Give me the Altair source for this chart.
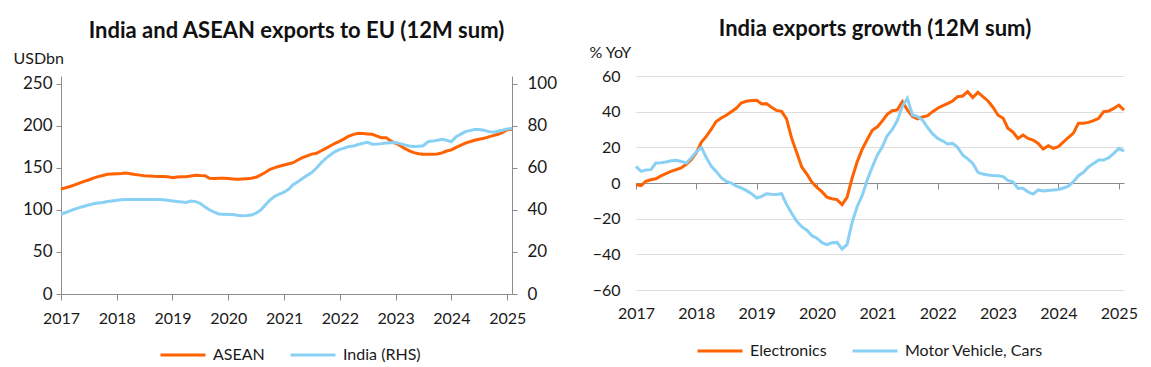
import altair as alt
import pandas as pd

# ---------------- data (monthly, Jan 2017 - Feb 2025) ----------------
months = pd.date_range("2017-01-01", "2025-02-01", freq="MS")

asean = [
    125, 126.5, 128, 130, 132, 134, 135.7, 138, 139.7, 141, 142.5, 142.8,
    143.2, 143.5, 144, 143.2, 142.3, 141.5, 140.9, 140.5, 140.1, 140, 139.8, 139.7,
    138.5, 139.2, 139.5, 139.7, 140.5, 141.3, 141, 140.9, 137.7, 137.6, 137.7, 137.7,
    137.5, 137, 136.5, 137, 137.3, 137.7, 139, 141.7, 145, 148.4, 150.5, 152,
    153.5, 155, 156.3, 159.5, 162.3, 164.5, 166.5, 167.5, 170.5, 173.4, 176.5, 179.4,
    182, 185, 188, 190, 191.3, 191, 190.5, 190.1, 188, 186.1, 186.1, 182,
    179.4, 176.5, 173.4, 170.5, 168.3, 167, 166.3, 166.3, 166.5, 166.7, 168, 170.2,
    171.5, 174.6, 177, 179.5, 181.3, 183, 184.3, 185.3, 187, 188.5, 190.1, 192.5,
    195.6, 196,
]
india = [
    38.1, 38.8, 39.6, 40.4, 41.1, 41.8, 42.4, 43, 43.3, 43.6, 44, 44.3,
    44.6, 44.9, 45, 45, 45, 45, 45, 45, 45, 45, 44.9, 44.6,
    44.3, 44, 43.8, 43.6, 44.3, 44, 43.2, 41.5, 40, 39, 38.1, 38,
    37.9, 37.8, 37.5, 37.3, 37.4, 37.6, 38.5, 40, 42.5, 44.8, 46.5, 47.6,
    48.5, 50, 52, 53.5, 55, 56.5, 57.8, 60, 62.5, 64.6, 66.3, 67.8,
    68.9, 69.5, 70.2, 70.5, 71.2, 71.8, 72.2, 71.3, 71.4, 71.6, 71.9, 72,
    72.1, 71.6, 71, 70.5, 70.2, 70.4, 70.6, 72.5, 72.8, 73.2, 73.7, 73.2,
    72.5, 74.9, 76, 77.3, 77.8, 78.3, 78.3, 78, 77.3, 77, 77.5, 78,
    78.6, 78.8,
]
electronics = [
    -1, -1.5, 0.9, 1.8, 2.4, 4, 5.3, 6.5, 7.5, 8.4, 10.5, 13,
    17, 23, 26, 30, 34.5, 36.5, 38, 40, 42, 45, 45.8, 46.3,
    46.4, 44.3, 44.5, 42.5, 40.7, 40.2, 36, 25, 17, 9, 5, 0.5,
    -2.5, -5, -7.9, -8.8, -9.3, -12.1, -8, 2.8, 12, 19, 24.5, 29.5,
    31.5, 35, 38.5, 40.5, 41, 45.6, 41, 37.2, 35.9, 37, 37.8, 40,
    41.9, 43.4, 44.5, 46, 48.4, 48.8, 51.2, 47.9, 50.8, 48.4, 46, 42.5,
    38, 36.3, 30.7, 28.5, 25, 26.9, 25, 24.1, 22.2, 19, 20.9, 19.4,
    20.4, 23, 25.5, 28, 33.5, 33.5, 34, 35, 36.3, 40, 40.4, 41.8,
    43.7, 40.9,
]
motor = [
    9.3, 6.5, 7.3, 7.5, 11.2, 11.4, 11.8, 12.5, 12.7, 12.1, 11.2, 14,
    17.5, 20, 14.5, 9.5, 6.5, 3, 0.9, 0, -1.8, -2.8, -4.3, -6,
    -8.4, -7.5, -6, -6.3, -6.5, -6, -12, -17, -21.5, -24.5, -26.5, -29.5,
    -31, -33.5, -34.6, -33.5, -33.3, -37, -34.6, -22, -13, -7, 1.9, 9,
    15.7, 20.6, 26.5, 30, 35, 43, 47.5, 38.1, 37.2, 35.3, 31, 27.5,
    25, 23.5, 21.9, 22.2, 20, 15.7, 13.5, 11, 6, 5, 4.5, 4.2,
    4.1, 3.6, 1.5, 0.7, -3, -3, -5, -6.2, -3.9, -4.5, -4.2, -3.9,
    -3.6, -2.8, -1.8, 0.7, 4.1, 6, 9, 11, 12.9, 12.9, 14.2, 16.6,
    19.4, 17.9,
]

left_series = ["ASEAN", "India (RHS)"]
right_series = ["Electronics", "Motor Vehicle, Cars"]
left_ticks = [0, 50, 100, 150, 200, 250]
right_ticks = [0, 20, 40, 60, 80, 100]
growth_ticks = [-60, -40, -20, 0, 20, 40, 60]
years = list(range(2017, 2026))

# ---------------- styling ----------------
ORANGE = "#FF6200"
BLUE = "#89D0F5"
FONT = "Lato"
AXIS_GREY = "#8c8c8c"
TEXT = "#1a1a1a"

asean_df = pd.DataFrame({"date": months, "value": asean, "series": left_series[0]})
india_df = pd.DataFrame({"date": months, "value": india, "series": left_series[1]})
elec_df = pd.DataFrame({"date": months, "value": electronics, "series": right_series[0]})
motor_df = pd.DataFrame({"date": months, "value": motor, "series": right_series[1]})
right_df = pd.concat([elec_df, motor_df], ignore_index=True)

year_ticks = [alt.DateTime(year=y, month=1, date=1) for y in years]
xscale = alt.Scale(domain=[alt.DateTime(year=2017, month=1, date=1),
                           alt.DateTime(year=2025, month=2, date=1)])


def legend(x, y):
    return alt.Legend(
        title=None, orient="none", legendX=x, legendY=y, direction="horizontal",
        symbolType="stroke", symbolSize=2025, symbolStrokeWidth=3,
        labelFontSize=16, labelFont=FONT, labelColor=TEXT, labelOffset=6,
        columnPadding=24, clipHeight=20,
    )


# ---------------- left chart ----------------
x_left = alt.X(
    "date:T", scale=xscale,
    axis=alt.Axis(values=year_ticks, format="%Y", title=None, grid=False,
                  domainColor=AXIS_GREY, tickColor=AXIS_GREY, tickSize=6,
                  labelFontSize=16, labelPadding=10, labelColor=TEXT,
                  labelFlush=False),
)
color_left = alt.Color(
    "series:N",
    scale=alt.Scale(domain=left_series, range=[ORANGE, BLUE]),
    legend=legend(98, 269),
)

asean_layer = alt.Chart(asean_df).mark_line(strokeWidth=3).encode(
    x=x_left,
    y=alt.Y("value:Q", scale=alt.Scale(domain=[0, 259.5], nice=False),
            axis=alt.Axis(orient="left", values=left_ticks, grid=False,
                          domainColor=AXIS_GREY, tickColor=AXIS_GREY, tickSize=5,
                          labelPadding=4, labelFontSize=17, labelColor=TEXT,
                          title="USDbn", titleAngle=0, titleAlign="left",
                          titleBaseline="alphabetic", titleX=-48, titleY=-13,
                          titleFontSize=16, titleFontWeight="normal",
                          titleColor=TEXT)),
    color=color_left,
)
india_layer = alt.Chart(india_df).mark_line(strokeWidth=3).encode(
    x=x_left,
    y=alt.Y("value:Q", scale=alt.Scale(domain=[0, 103.8], nice=False),
            axis=alt.Axis(orient="right", values=right_ticks, grid=False,
                          domainColor=AXIS_GREY, tickColor=AXIS_GREY, tickSize=5,
                          labelPadding=10, labelFontSize=17, labelColor=TEXT,
                          title=None)),
    color=color_left,
)

left = alt.layer(asean_layer, india_layer).resolve_scale(y="independent").properties(
    width=451, height=218,
    title=alt.TitleParams("India and ASEAN exports to EU (12M sum)", fontSize=22,
                          fontWeight="bold", font=FONT, color="#111",
                          anchor="middle", dx=10, offset=7),
)

# ---------------- right chart ----------------
y_right = alt.Y(
    "value:Q", scale=alt.Scale(domain=[-60, 60], nice=False),
    axis=alt.Axis(values=growth_ticks, grid=True, gridColor="#dedede",
                  domain=False, ticks=False, labelPadding=16, labelFontSize=16,
                  labelColor=TEXT, title="% YoY", titleAngle=0, titleAlign="left",
                  titleBaseline="alphabetic", titleX=-47, titleY=-19,
                  titleFontSize=16, titleFontWeight="normal", titleColor=TEXT),
)
x_zero = alt.X(
    "date:T", scale=xscale,
    axis=alt.Axis(orient="bottom", offset=-107, values=year_ticks, labels=False,
                  domainColor=AXIS_GREY, tickColor=AXIS_GREY, tickSize=6,
                  grid=False, title=None),
)
x_labels = alt.X(
    "date:T", scale=xscale,
    axis=alt.Axis(orient="bottom", values=year_ticks, format="%Y", domain=False,
                  ticks=False, labelPadding=15, labelFontSize=16, labelColor=TEXT,
                  grid=False, title=None, labelFlush=False),
)

lines_r = alt.Chart(right_df).mark_line(strokeWidth=3).encode(
    x=x_zero, y=y_right,
    color=alt.Color("series:N",
                    scale=alt.Scale(domain=right_series, range=[ORANGE, BLUE]),
                    legend=legend(60, 265)),
)
labels_r = alt.Chart(right_df).mark_point(opacity=0).encode(x=x_labels)

right = alt.layer(lines_r, labels_r).resolve_axis(x="independent").properties(
    width=488, height=214,
    title=alt.TitleParams("India exports growth (12M sum)", fontSize=22,
                          fontWeight="bold", font=FONT, color="#111",
                          anchor="middle", dx=-5, offset=3),
)

chart = alt.hconcat(left, right, spacing=32).resolve_scale(color="independent").properties(
    padding={"left": 5, "right": 5, "top": 10, "bottom": 0}
).configure(font=FONT).configure_view(stroke=None)

chart.save("out.html", embed_options={"renderer": "svg", "actions": False})
